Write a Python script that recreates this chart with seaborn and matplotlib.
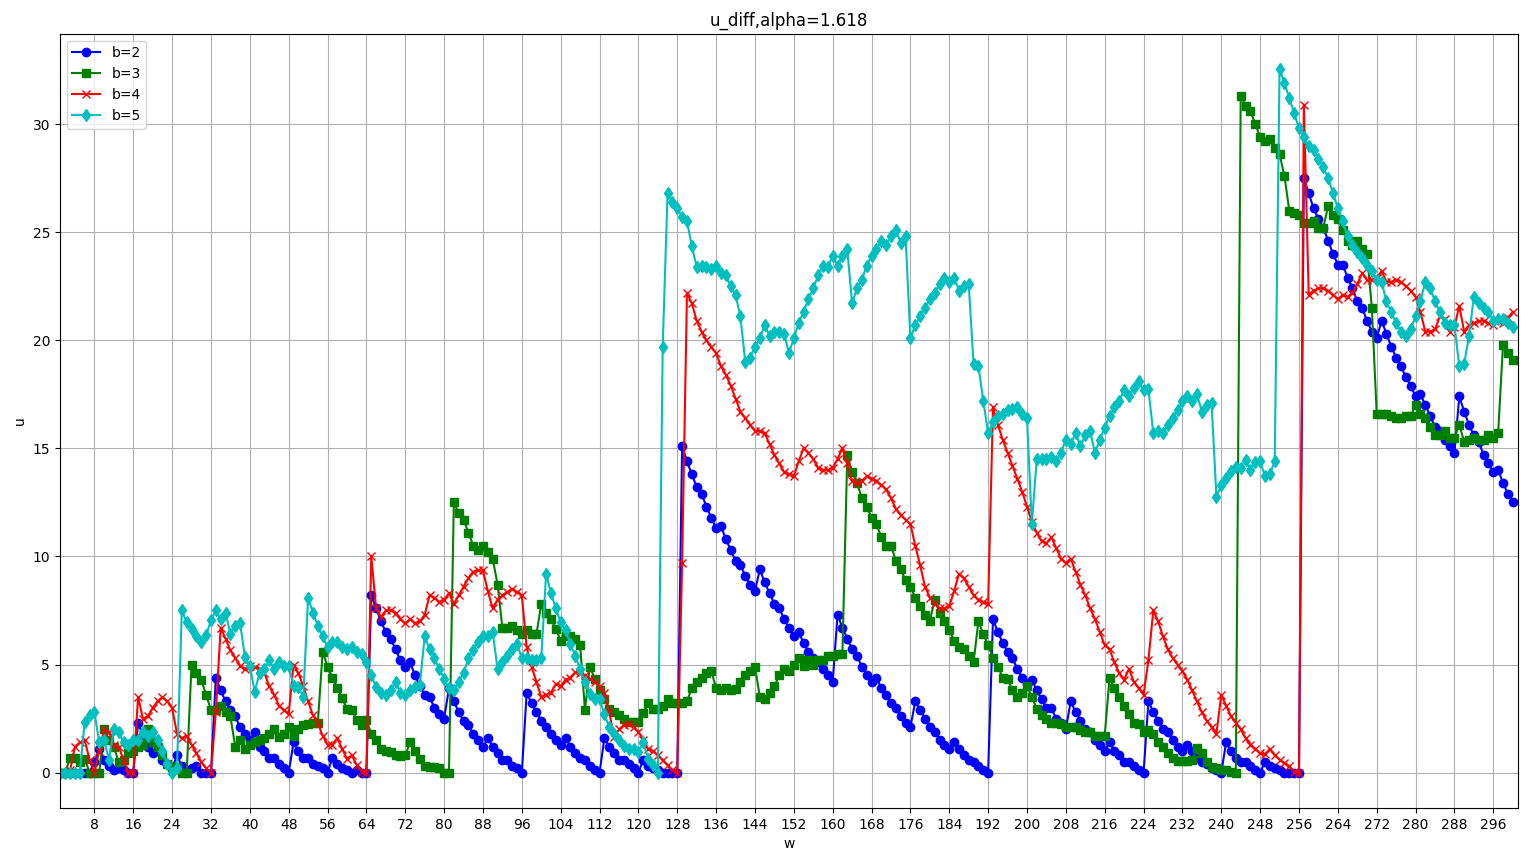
import matplotlib
matplotlib.use("Agg")
import matplotlib.pyplot as plt
import numpy as np
import pandas as pd
import seaborn as sns

# values, w = 1..300
w = list(range(1, 301))

b2 = [0, 0, 0, 0, 0, 0, 0, 0.5, 1.1, 0.6, 0.3, 0.1, 0.2, 0.1, 0, 0,
      2.3, 1.7, 1.2, 0.9, 1.0, 0.6, 0.4, 0.2, 0.8, 0.3, 0.1, 0.2, 0.3, 0, 0, 0,
      4.4, 3.8, 3.3, 2.9, 2.6, 2.1, 1.8, 1.5, 1.9, 1.2, 1.0, 0.7, 0.7, 0.4, 0.2, 0,
      1.4, 1.0, 0.7, 0.7, 0.4, 0.3, 0.2, 0, 0.7, 0.4, 0.2, 0.1, 0, 0.1, 0, 0,
      8.2, 7.6, 7.0, 6.5, 6.2, 5.7, 5.2, 4.9, 5.1, 4.5, 4.0, 3.6, 3.5, 3.0, 2.7, 2.5,
      3.9, 3.3, 2.8, 2.4, 2.2, 1.8, 1.5, 1.2, 1.6, 1.2, 0.9, 0.6, 0.6, 0.3, 0.2, 0,
      3.7, 3.2, 2.8, 2.4, 2.1, 1.8, 1.5, 1.3, 1.6, 1.2, 0.9, 0.7, 0.6, 0.3, 0.1, 0,
      1.6, 1.2, 0.9, 0.6, 0.6, 0.4, 0.2, 0, 0.6, 0.3, 0.2, 0.1, 0, 0, 0, 0,
      15.1, 14.4, 13.8, 13.2, 12.9, 12.3, 11.8, 11.3, 11.4, 10.8, 10.3, 9.8, 9.6, 9.1, 8.7, 8.4,
      9.4, 8.8, 8.3, 7.8, 7.6, 7.1, 6.7, 6.3, 6.5, 6.0, 5.6, 5.3, 5.1, 4.8, 4.5, 4.2,
      7.3, 6.7, 6.2, 5.7, 5.4, 4.9, 4.5, 4.2, 4.4, 3.9, 3.6, 3.2, 3.0, 2.6, 2.3, 2.1,
      3.3, 2.9, 2.5, 2.1, 1.9, 1.5, 1.3, 1.1, 1.4, 1.1, 0.8, 0.6, 0.5, 0.3, 0.1, 0,
      7.1, 6.5, 6.0, 5.6, 5.3, 4.8, 4.4, 4.1, 4.3, 3.8, 3.4, 3.0, 3.0, 2.5, 2.3, 2.0,
      3.3, 2.8, 2.4, 2.0, 1.9, 1.5, 1.3, 1.0, 1.4, 1.0, 0.8, 0.5, 0.5, 0.3, 0.1, 0,
      3.3, 2.8, 2.4, 2.0, 1.9, 1.5, 1.2, 1.0, 1.3, 1.0, 0.7, 0.5, 0.4, 0.2, 0.1, 0,
      1.4, 1.0, 0.7, 0.5, 0.5, 0.3, 0.1, 0, 0.5, 0.3, 0.2, 0.1, 0, 0, 0, 0,
      27.5, 26.8, 26.1, 25.6, 25.2, 24.6, 24.0, 23.5, 23.5, 22.9, 22.4, 21.8, 21.5, 20.9, 20.4, 20.1,
      20.9, 20.3, 19.7, 19.2, 18.8, 18.3, 17.9, 17.4, 17.5, 17.0, 16.5, 16.0, 15.8, 15.4, 15.1, 14.8,
      17.4, 16.7, 16.1, 15.6, 15.3, 14.7, 14.3, 13.9, 14.0, 13.4, 12.9, 12.5]

b3 = [0, 0, 0.7, 0.7, 0.5, 0.65, 0, 0, 0, 2.0, 1.5, 1.2, 0.5, 0.6, 0.9, 1.0,
      1.2, 1.3, 2.0, 1.4, 1.2, 0.8, 0.4, 0.25, 0.25, 0, 0, 5.0, 4.6, 4.3, 3.6, 2.9,
      2.9, 3.1, 2.8, 2.6, 1.2, 1.5, 1.1, 1.3, 1.4, 1.5, 1.6, 1.8, 2.0, 1.65, 1.8, 2.1,
      1.7, 2.0, 2.2, 2.25, 2.3, 2.3, 5.6, 4.9, 4.4, 3.9, 3.45, 2.95, 2.9, 2.45, 2.2, 2.45,
      1.8, 1.5, 1.1, 1.0, 0.95, 0.8, 0.75, 0.8, 1.4, 1.0, 0.65, 0.3, 0.25, 0.25, 0.2, 0,
      0, 12.5, 12.0, 11.7, 11.1, 10.5, 10.3, 10.5, 10.2, 9.9, 8.7, 6.7, 6.7, 6.8, 6.6, 6.4,
      6.6, 6.4, 6.4, 7.8, 7.4, 7.1, 6.65, 6.1, 6.3, 6.3, 6.2, 5.9, 2.9, 4.9, 4.35, 3.8,
      3.4, 2.95, 2.8, 2.65, 2.5, 2.35, 2.35, 2.35, 2.75, 3.2, 2.95, 2.95, 3.1, 3.4, 3.2, 3.2,
      3.2, 3.3, 3.9, 4.2, 4.4, 4.6, 4.7, 3.9, 3.8, 3.9, 3.8, 3.85, 4.2, 4.5, 4.7, 4.9,
      3.5, 3.4, 3.7, 4.0, 4.5, 4.8, 4.7, 5.0, 5.3, 4.95, 5.2, 5.0, 5.2, 5.2, 5.4, 5.4,
      5.5, 5.5, 14.7, 13.9, 13.4, 12.7, 12.3, 11.8, 11.5, 10.9, 10.5, 10.5, 9.8, 9.4, 8.9, 8.6,
      8.1, 7.7, 7.3, 7.0, 8.0, 7.4, 7.0, 6.6, 6.1, 5.8, 5.7, 5.4, 5.1, 7.0, 6.4, 5.9,
      5.3, 4.9, 4.4, 4.35, 3.8, 3.5, 3.7, 4.0, 3.5, 2.95, 2.65, 2.5, 2.3, 2.3, 2.25, 2.1,
      2.1, 2.1, 1.95, 1.9, 1.9, 1.7, 1.7, 1.7, 4.4, 3.9, 3.5, 3.1, 2.7, 2.3, 2.25, 1.9,
      1.95, 1.8, 1.4, 1.2, 0.9, 0.7, 0.55, 0.55, 0.55, 0.6, 1.15, 0.9, 0.5, 0.25, 0.2, 0.1,
      0.1, 0.05, 0, 31.3, 30.85, 30.6, 30.0, 29.4, 29.2, 29.3, 28.9, 28.6, 27.6, 26.0, 25.9, 25.8,
      25.4, 25.4, 25.5, 25.2, 25.2, 26.2, 25.8, 25.6, 25.1, 24.6, 24.4, 24.6, 24.2, 24.0, 21.5, 16.6,
      16.6, 16.6, 16.5, 16.4, 16.4, 16.5, 16.5, 17.0, 16.6, 16.4, 16.0, 15.6, 15.6, 15.8, 15.5, 15.5,
      16.1, 15.3, 15.4, 15.5, 15.4, 15.4, 15.6, 15.5, 15.7, 19.8, 19.4, 19.1]

b4 = [0, 0, 0.1, 1.2, 1.4, 1.5, 0.6, 0, 1.0, 2.0, 1.9, 1.3, 1.2, 0.6, 0, 0,
      3.5, 2.5, 2.6, 3.0, 3.3, 3.5, 3.3, 3.0, 1.8, 1.6, 1.7, 1.3, 0.9, 0.5, 0.2, 0,
      2.8, 6.7, 6.2, 5.65, 5.3, 4.95, 4.8, 4.95, 4.9, 4.8, 4.6, 4.0, 3.6, 3.1, 2.9, 2.7,
      5.0, 4.6, 4.0, 3.3, 2.65, 2.3, 1.7, 1.3, 1.3, 1.6, 1.1, 0.65, 0.8, 0.35, 0.05, 0,
      10.0, 7.6, 7.2, 7.5, 7.5, 7.4, 7.1, 6.9, 7.1, 6.9, 7.0, 7.3, 8.2, 8.1, 7.9, 8.0,
      8.3, 7.8, 8.2, 8.6, 9.0, 9.3, 9.35, 9.35, 8.4, 7.6, 8.0, 8.2, 8.35, 8.5, 8.35, 8.2,
      5.8, 4.9, 4.2, 3.5, 3.6, 3.7, 4.1, 4.0, 4.3, 4.4, 4.65, 4.6, 4.5, 4.35, 4.2, 4.0,
      3.7, 2.8, 1.65, 2.0, 2.2, 2.25, 2.1, 1.9, 1.5, 1.1, 1.0, 0.8, 0.57, 0.34, 0.1, 0,
      9.7, 22.2, 21.7, 20.9, 20.4, 20.0, 19.7, 19.4, 18.8, 18.4, 17.9, 17.3, 16.7, 16.4, 16.1, 15.8,
      15.8, 15.7, 15.2, 14.7, 14.3, 13.9, 13.8, 13.7, 14.4, 15.0, 14.8, 14.5, 14.1, 14.0, 14.0, 14.1,
      14.5, 15.0, 14.3, 13.5, 13.4, 13.5, 13.7, 13.6, 13.5, 13.3, 13.1, 12.7, 12.2, 11.9, 11.7, 11.5,
      10.5, 9.6, 8.6, 8.1, 7.8, 7.6, 7.6, 7.7, 8.4, 9.2, 9.0, 8.6, 8.2, 8.0, 7.9, 7.8,
      16.9, 16.1, 15.4, 14.8, 14.2, 13.6, 13.0, 12.3, 11.6, 11.1, 10.7, 10.6, 10.9, 10.4, 9.9, 9.7,
      9.9, 9.3, 8.7, 8.2, 7.6, 7.1, 6.5, 5.9, 5.7, 5.1, 4.6, 4.3, 4.8, 4.2, 3.9, 3.6,
      5.2, 7.5, 7.0, 6.3, 5.7, 5.3, 5.0, 4.7, 4.3, 3.8, 3.3, 2.8, 2.4, 2.1, 1.8, 3.6,
      3.1, 2.6, 2.3, 2.0, 1.6, 1.3, 1.1, 0.9, 0.85, 1.1, 0.8, 0.6, 0.45, 0.3, 0.05, 0,
      30.9, 22.1, 22.3, 22.4, 22.4, 22.3, 22.1, 21.9, 22.1, 22.0, 22.2, 22.6, 23.1, 22.8, 22.8, 22.9,
      23.2, 22.7, 22.7, 22.8, 22.7, 22.5, 22.3, 22.0, 21.3, 20.4, 20.4, 20.5, 21.1, 21.0, 20.4, 20.6,
      21.6, 20.4, 20.7, 20.8, 20.9, 20.9, 20.8, 20.7, 20.9, 20.8, 21.05, 21.3]

b5 = [0, 0, 0, 0, 0, 2.35, 2.65, 2.8, 1.4, 1.5, 0.6, 2.0, 1.9, 1.4, 1.3, 1.5,
      1.5, 1.9, 1.7, 1.9, 1.5, 1.0, 0.4, 0, 0.2, 7.5, 6.95, 6.65, 6.3, 6.05, 6.35, 7.05,
      7.5, 7.1, 7.4, 6.4, 6.8, 6.9, 5.35, 4.95, 3.75, 4.6, 4.8, 5.2, 4.8, 5.1, 4.95, 4.95,
      4.0, 3.95, 3.5, 8.1, 7.4, 6.8, 6.3, 5.8, 6.05, 6.05, 5.8, 5.7, 5.8, 5.6, 5.5, 5.1,
      4.5, 3.95, 3.7, 3.6, 3.8, 4.2, 3.7, 3.6, 3.8, 3.95, 4.05, 6.3, 5.7, 5.3, 4.8, 4.35,
      3.9, 3.8, 4.2, 4.6, 5.3, 5.65, 6.05, 6.3, 6.3, 6.5, 4.8, 5.1, 5.4, 5.7, 5.95, 5.3,
      5.3, 5.2, 5.2, 5.3, 9.2, 8.3, 7.6, 6.95, 6.6, 5.95, 5.4, 4.8, 4.2, 3.65, 3.4, 3.4,
      2.7, 2.1, 1.8, 1.5, 1.25, 1.1, 1.1, 0.95, 1.4, 0.65, 0.34, 0, 19.7, 26.8, 26.4, 26.1,
      25.7, 25.5, 24.35, 23.4, 23.45, 23.4, 23.3, 23.45, 23.1, 23.0, 22.5, 22.1, 21.1, 19.0, 19.2, 19.7,
      20.1, 20.7, 20.2, 20.4, 20.4, 20.3, 19.4, 20.1, 20.8, 21.3, 21.9, 22.4, 23.0, 23.45, 23.4, 23.9,
      23.45, 23.9, 24.2, 21.7, 22.4, 22.8, 23.45, 23.9, 24.2, 24.6, 24.4, 24.8, 25.1, 24.5, 24.8, 20.1,
      20.7, 21.1, 21.5, 21.9, 22.2, 22.6, 22.9, 22.7, 22.9, 22.3, 22.5, 22.6, 18.9, 18.8, 17.2, 15.7,
      16.2, 16.5, 16.6, 16.75, 16.8, 16.9, 16.6, 16.4, 11.5, 14.5, 14.5, 14.5, 14.6, 14.4, 14.8, 15.4,
      15.2, 15.7, 15.1, 15.6, 15.8, 14.8, 15.4, 15.95, 16.5, 16.9, 17.2, 17.7, 17.4, 17.8, 18.1, 17.7,
      17.75, 15.7, 15.8, 15.7, 16.1, 16.4, 16.75, 17.2, 17.4, 17.2, 17.5, 16.7, 17.0, 17.1, 12.75, 13.3,
      13.65, 13.95, 14.15, 14.1, 14.45, 14.0, 14.35, 14.4, 13.7, 13.8, 14.4, 32.55, 31.9, 31.2, 30.5, 29.8,
      29.4, 29.0, 28.8, 28.4, 28.0, 27.5, 26.8, 26.1, 25.5, 24.8, 24.4, 24.1, 23.8, 23.5, 23.2, 22.8,
      22.7, 21.8, 21.3, 20.8, 20.4, 20.2, 20.5, 21.1, 21.8, 22.7, 22.4, 21.8, 21.3, 20.8, 20.7, 20.7,
      18.8, 18.9, 20.2, 22.0, 21.7, 21.5, 21.3, 20.9, 21.0, 21.0, 20.8, 20.6]

series = [("b=2", b2, "b", "o"), ("b=3", b3, "g", "s"),
          ("b=4", b4, "r", "x"), ("b=5", b5, "c", "d")]

fig, ax = plt.subplots(figsize=(15.36, 8.64), dpi=100)
fig.subplots_adjust(left=0.039, right=0.988, bottom=0.065, top=0.961)

for name, vals, col, mk in series:
    df = pd.DataFrame({"w": w, "u": vals})
    sns.lineplot(data=df, x="w", y="u", ax=ax, color=col, marker=mk,
                 markersize=6, markeredgecolor=col, markeredgewidth=1.0,
                 linewidth=1.5, label=name)

ax.set_xlim(0.9, 301)
ax.set_xticks(np.arange(8, 300, 8))
ax.grid(True)
ax.set_title("u_diff,alpha=1.618")
ax.set_xlabel("w")
ax.set_ylabel("u")
ax.legend(loc="upper left")

fig.savefig("out.png", dpi=100)
